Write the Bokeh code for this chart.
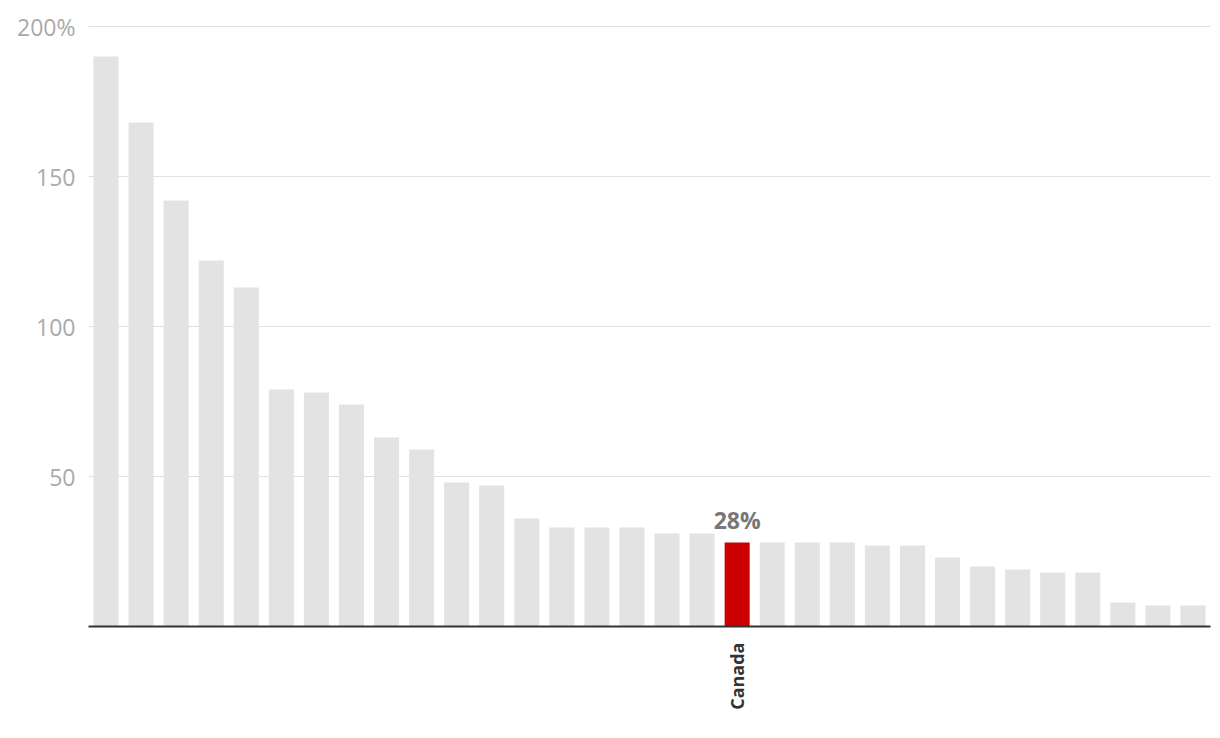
import math
from bokeh.plotting import figure
from bokeh.models import ColumnDataSource, FixedTicker, Range1d, Label
from bokeh.embed import file_html
from bokeh.resources import INLINE

# Data (share, %) — only Canada is labelled in the original
countries = [f"Country {i+1}" for i in range(18)] + ["Canada"] + [f"Country {i+19}" for i in range(13)]
values = [190, 168, 142, 122, 113, 79, 78, 74, 63, 59, 48, 47, 36, 33, 33, 33, 31, 31,
          28, 28, 28, 28, 27, 27, 23, 20, 19, 18, 18, 8, 7, 7]
highlight = "Canada"
y_ticks = [0, 50, 100, 150, 200]

idx = list(range(len(values)))
colors = ["#cc0000" if c == highlight else "#e3e3e3" for c in countries]
src = ColumnDataSource(dict(x=idx, top=values, color=colors, name=countries))

p = figure(width=1212, height=730, output_backend="svg", toolbar_location=None,
           x_range=Range1d(-0.5, len(values) - 0.5), y_range=Range1d(0, 201),
           min_border_left=88, min_border_right=2, min_border_top=23, min_border_bottom=104)
p.outline_line_color = None

p.vbar(x="x", top="top", width=25/35, color="color", source=src, line_color=None)

hi = countries.index(highlight)
p.add_layout(Label(x=hi, y=values[hi], text=f"{values[hi]}%", text_align="center",
                   text_baseline="bottom", y_offset=7, text_font="Open Sans",
                   text_font_style="bold", text_font_size="23px", text_color="#777777"))

# Y axis
p.yaxis.ticker = FixedTicker(ticks=y_ticks)
p.yaxis.major_label_overrides = {0: "", 200: "200%"}
p.yaxis.axis_line_color = None
p.yaxis.major_tick_line_color = None
p.yaxis.minor_tick_line_color = None
p.yaxis.major_label_text_font = "Open Sans"
p.yaxis.major_label_text_font_size = "23px"
p.yaxis.major_label_text_color = "#aaaaaa"
p.yaxis.major_label_standoff = 7
p.ygrid.grid_line_color = "#e0e0e0"
p.ygrid.grid_line_width = 1
p.xgrid.grid_line_color = None

# X axis
p.xaxis.ticker = FixedTicker(ticks=[hi])
p.xaxis.major_label_overrides = {hi: highlight}
p.xaxis.major_label_orientation = math.pi / 2
p.xaxis.axis_line_color = "#333333"
p.xaxis.axis_line_width = 2
p.xaxis.major_tick_line_color = None
p.xaxis.minor_tick_line_color = None
p.xaxis.major_label_text_font = "Open Sans"
p.xaxis.major_label_text_font_style = "bold"
p.xaxis.major_label_text_font_size = "18px"
p.xaxis.major_label_text_color = "#333333"
p.xaxis.major_label_standoff = 10

open("out.html", "w").write(file_html(p, INLINE))
